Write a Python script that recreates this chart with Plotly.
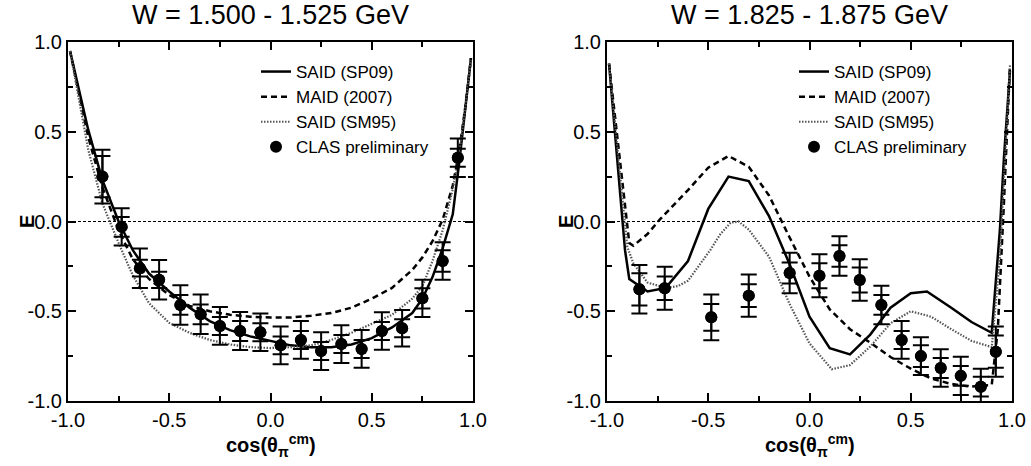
import plotly.graph_objects as go

# ---------------- data ----------------
panel_titles = ["W = 1.500 - 1.525 GeV", "W = 1.825 - 1.875 GeV"]
series_names = ["SAID (SP09)", "MAID (2007)", "SAID (SM95)", "CLAS preliminary"]
tick_vals = [-1.0, -0.5, 0.0, 0.5, 1.0]
tick_text = ["-1.0", "-0.5", "0.0", "0.5", "1.0"]

# Left panel (W = 1.500 - 1.525 GeV)
left_cos = [-0.83, -0.735, -0.645, -0.55, -0.445, -0.345, -0.25, -0.15, -0.05, 0.05,
            0.15, 0.25, 0.35, 0.45, 0.55, 0.65, 0.75, 0.85, 0.925]
left_E = [0.25, -0.03, -0.26, -0.325, -0.465, -0.517, -0.582, -0.61, -0.617, -0.69,
          -0.66, -0.722, -0.683, -0.71, -0.61, -0.595, -0.428, -0.22, 0.355]
left_err_stat = [0.115, 0.055, 0.047, 0.045, 0.055, 0.055, 0.05, 0.056, 0.05, 0.05,
                 0.05, 0.05, 0.05, 0.05, 0.05, 0.05, 0.056, 0.06, 0.05]
left_err_tot = [0.15, 0.104, 0.11, 0.11, 0.11, 0.11, 0.105, 0.106, 0.105, 0.105,
                0.105, 0.105, 0.105, 0.105, 0.105, 0.102, 0.104, 0.105, 0.107]

left_curve_cos = [-0.99, -0.9, -0.83, -0.75, -0.68, -0.6, -0.5, -0.4, -0.3, -0.2, -0.1, 0.0,
                  0.1, 0.2, 0.3, 0.4, 0.5, 0.6, 0.7, 0.75, 0.8, 0.85, 0.9, 0.93, 0.96, 0.99]
left_sp09 = [0.95, 0.51, 0.23, 0.0, -0.16, -0.29, -0.39, -0.48, -0.555, -0.605, -0.64, -0.665,
             -0.69, -0.70, -0.70, -0.685, -0.65, -0.59, -0.51, -0.43, -0.31, -0.15, 0.04, 0.31, 0.6, 0.91]
left_maid = [0.95, 0.47, 0.19, -0.05, -0.21, -0.32, -0.41, -0.47, -0.50, -0.52, -0.53, -0.535,
             -0.535, -0.525, -0.51, -0.48, -0.43, -0.37, -0.27, -0.20, -0.11, 0.01, 0.2, 0.38, 0.62, 0.91]
left_sm95 = [0.95, 0.40, 0.10, -0.12, -0.30, -0.455, -0.565, -0.62, -0.66, -0.685, -0.70, -0.705,
             -0.70, -0.69, -0.66, -0.62, -0.57, -0.52, -0.43, -0.36, -0.22, -0.05, 0.18, 0.36, 0.62, 0.90]

# Right panel (W = 1.825 - 1.875 GeV)
right_cos = [-0.84, -0.715, -0.485, -0.3, -0.098, 0.049, 0.148, 0.248, 0.355, 0.455,
             0.55, 0.648, 0.747, 0.846, 0.92]
right_E = [-0.378, -0.372, -0.534, -0.413, -0.287, -0.302, -0.192, -0.326, -0.465, -0.66,
           -0.75, -0.816, -0.86, -0.92, -0.725]
right_err_stat = [0.09, 0.065, 0.074, 0.063, 0.058, 0.07, 0.06, 0.07, 0.055, 0.05,
                  0.06, 0.056, 0.055, 0.055, 0.09]
right_err_tot = [0.135, 0.12, 0.128, 0.118, 0.113, 0.12, 0.11, 0.115, 0.107, 0.105,
                 0.105, 0.104, 0.107, 0.1, 0.14]

right_sp09_cos = [-0.99, -0.911, -0.89, -0.8, -0.71, -0.6, -0.5, -0.4, -0.3, -0.2, -0.1, 0.0,
                  0.1, 0.2, 0.3, 0.4, 0.5, 0.58, 0.7, 0.8, 0.9, 0.94, 0.96, 0.99]
right_sp09 = [0.88, -0.16, -0.32, -0.39, -0.37, -0.22, 0.07, 0.25, 0.225, 0.03, -0.233, -0.53,
              -0.706, -0.74, -0.63, -0.48, -0.40, -0.39, -0.48, -0.56, -0.62, -0.05, 0.35, 0.84]
right_maid_cos = [-0.99, -0.89, -0.87, -0.8, -0.74, -0.6, -0.5, -0.4, -0.3, -0.2, -0.1, 0.0,
                  0.1, 0.2, 0.3, 0.4, 0.5, 0.6, 0.7, 0.8, 0.9, 0.93, 0.96, 0.99]
right_maid = [0.88, -0.12, -0.135, -0.07, 0.01, 0.175, 0.30, 0.365, 0.305, 0.145, -0.085, -0.307,
              -0.49, -0.60, -0.675, -0.755, -0.82, -0.875, -0.905, -0.92, -0.91, -0.6, 0.1, 0.87]
right_sm95_cos = [-0.99, -0.9, -0.87, -0.8, -0.71, -0.65, -0.6, -0.54, -0.49, -0.44, -0.39, -0.35,
                  -0.3, -0.2, -0.1, 0.0, 0.11, 0.2, 0.3, 0.4, 0.5, 0.6, 0.7, 0.8, 0.9, 0.94, 0.99]
right_sm95 = [0.88, -0.14, -0.233, -0.34, -0.37, -0.36, -0.33, -0.233, -0.159, -0.07, -0.007, 0.0,
              -0.045, -0.196, -0.456, -0.679, -0.823, -0.80, -0.697, -0.567, -0.50, -0.53, -0.60,
              -0.665, -0.70, -0.2, 0.87]

# ---------------- figure ----------------
W, H = 1031, 466
FONT = "Liberation Sans, Arial, Helvetica, sans-serif"
px_x = lambda p: p / W
px_y = lambda p: 1 - p / H

fig = go.Figure()

line_styles = [
    dict(color="black", width=2.5, dash="solid"),
    dict(color="black", width=2.5, dash="6px,4px"),
    dict(color="#555555", width=2.2, dash="1.5px,1.5px"),
]

panels = [
    dict(xa="x", ya="y", leg="legend",
         curves=[(left_curve_cos, left_sp09), (left_curve_cos, left_maid), (left_curve_cos, left_sm95)],
         cos=left_cos, E=left_E, stat=left_err_stat, tot=left_err_tot),
    dict(xa="x2", ya="y2", leg="legend2",
         curves=[(right_sp09_cos, right_sp09), (right_maid_cos, right_maid), (right_sm95_cos, right_sm95)],
         cos=right_cos, E=right_E, stat=right_err_stat, tot=right_err_tot),
]

for p in panels:
    for (cx, cy), name, ls in zip(p["curves"], series_names[:3], line_styles):
        fig.add_trace(go.Scatter(x=cx, y=cy, mode="lines", name=name, line=ls,
                                 xaxis=p["xa"], yaxis=p["ya"], legend=p["leg"]))
    fig.add_trace(go.Scatter(x=p["cos"], y=p["E"], mode="markers", name=series_names[3],
                             marker=dict(color="black", size=12, symbol="circle"),
                             error_y=dict(type="data", array=p["tot"], visible=True,
                                          color="black", thickness=2, width=8),
                             xaxis=p["xa"], yaxis=p["ya"], legend=p["leg"]))
    fig.add_trace(go.Scatter(x=p["cos"], y=p["E"], mode="markers", showlegend=False,
                             marker=dict(color="black", size=12, symbol="circle"),
                             error_y=dict(type="data", array=p["stat"], visible=True,
                                          color="black", thickness=2, width=8),
                             xaxis=p["xa"], yaxis=p["ya"], legend=p["leg"]))

axis_common = dict(
    range=[-1, 1], showline=True, linewidth=2, linecolor="black", mirror="allticks",
    ticks="inside", ticklen=8, tickwidth=1.5, tickcolor="black",
    tickmode="array", tickvals=tick_vals, ticktext=tick_text,
    showgrid=False, zeroline=False, fixedrange=True, automargin=False,
    tickfont=dict(family=FONT, size=20, color="black"),
    minor=dict(ticks="inside", ticklen=5, tickwidth=1.5, tickcolor="black",
               tickmode="linear", tick0=-1, dtick=0.25, showgrid=False),
)

yd = [px_y(401), px_y(42)]
legend_common = dict(xanchor="left", yanchor="top", bgcolor="rgba(0,0,0,0)",
                     borderwidth=0, tracegroupgap=0,
                     font=dict(family=FONT, size=17, color="black"))
fig.update_layout(
    width=W, height=H, autosize=False,
    margin=dict(l=0, r=0, t=0, b=0, pad=0, autoexpand=False),
    paper_bgcolor="white", plot_bgcolor="white",
    showlegend=True,
    xaxis=dict(axis_common, domain=[px_x(68), px_x(473)], anchor="y"),
    yaxis=dict(axis_common, domain=yd, anchor="x"),
    xaxis2=dict(axis_common, domain=[px_x(607), px_x(1012)], anchor="y2"),
    yaxis2=dict(axis_common, domain=yd, anchor="x2"),
    legend=dict(legend_common, x=px_x(256), y=px_y(54)),
    legend2=dict(legend_common, x=px_x(794), y=px_y(54)),
)

for xr, yr in [("x", "y"), ("x2", "y2")]:
    fig.add_shape(type="line", xref=xr, yref=yr, x0=-1, x1=1, y0=0, y1=0,
                  line=dict(color="black", width=1, dash="3px,2px"), layer="below")

centers = [px_x((68 + 473) / 2), px_x((607 + 1012) / 2)]
ylab_x = [px_x(27), px_x(566)]
for c, t, yx in zip(centers, panel_titles, ylab_x):
    fig.add_annotation(text=t, x=c, y=px_y(15), xref="paper", yref="paper",
                       xanchor="center", yanchor="middle", showarrow=False,
                       font=dict(family=FONT, size=27, color="black"))
    fig.add_annotation(text="<b>cos(θ<sub>π</sub><sup>cm</sup>)</b>", x=c, y=px_y(445),
                       xref="paper", yref="paper", xanchor="center", yanchor="middle",
                       showarrow=False, font=dict(family=FONT, size=20, color="black"))
    fig.add_annotation(text="<b>E</b>", x=yx, y=px_y(222), xref="paper", yref="paper",
                       xanchor="center", yanchor="middle", textangle=-90, showarrow=False,
                       font=dict(family=FONT, size=20, color="black"))

fig.write_html("out.html", config={"displayModeBar": False},
               post_script="document.body.style.margin='0px';document.body.style.overflow='hidden';")
